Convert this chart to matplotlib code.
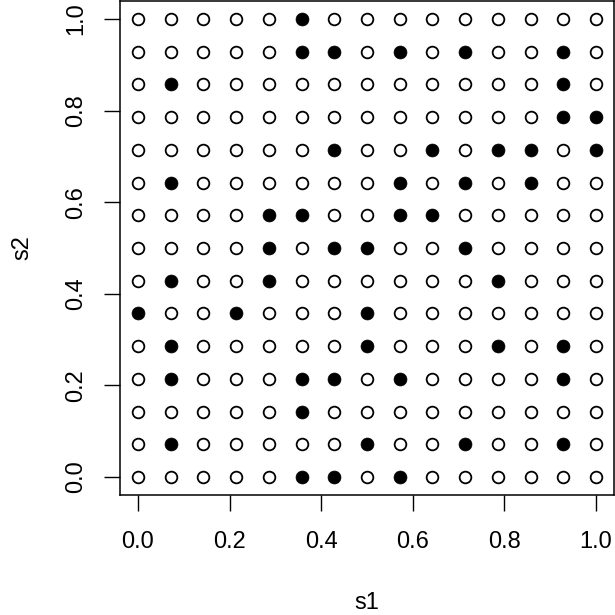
import matplotlib
matplotlib.use("Agg")
import matplotlib.pyplot as plt

plt.rcParams["font.family"] = ["Liberation Sans", "DejaVu Sans"]

# grid levels for s1 and s2 (15 equally spaced design points)
levels = [0/14, 1/14, 2/14, 3/14, 4/14, 5/14, 6/14, 7/14,
          8/14, 9/14, 10/14, 11/14, 12/14, 13/14, 14/14]

# filled points: row index (s2) -> column indices (s1)
filled_rows = {
    14: [5],
    13: [5, 6, 8, 10, 13],
    12: [1, 13],
    11: [13, 14],
    10: [6, 9, 11, 12, 14],
    9: [1, 8, 10, 12],
    8: [4, 5, 8, 9],
    7: [4, 6, 7, 10],
    6: [1, 4, 11],
    5: [0, 3, 7],
    4: [1, 7, 11, 13],
    3: [1, 5, 6, 8, 13],
    2: [5],
    1: [1, 7, 10, 13],
    0: [5, 6, 8],
}
ticks = [0.0, 0.2, 0.4, 0.6, 0.8, 1.0]
tick_labels = ["0.0", "0.2", "0.4", "0.6", "0.8", "1.0"]

open_x, open_y, fill_x, fill_y = [], [], [], []
for j, s2 in enumerate(levels):
    for i, s1 in enumerate(levels):
        if i in filled_rows.get(j, []):
            fill_x.append(s1); fill_y.append(s2)
        else:
            open_x.append(s1); open_y.append(s2)

fig = plt.figure(figsize=(6.15, 6.15), dpi=100)
ax = fig.add_axes([0.1946, 0.1946, 0.8043, 0.8043])
ax.plot(open_x, open_y, "o", ls="none", ms=8.4, mfc="none", mec="black", mew=1.3)
ax.plot(fill_x, fill_y, "o", ls="none", ms=9.3, mfc="black", mec="black", mew=0.5)

ax.set_xlim(-0.04, 1.04)
ax.set_ylim(-0.04, 1.04)
ax.set_xticks(ticks, tick_labels)
ax.set_yticks(ticks, tick_labels)
for lab in ax.get_yticklabels():
    lab.set_rotation(90)
    lab.set_va("center")
ax.tick_params(direction="out", length=11.5, width=1, labelsize=17, color="black")
ax.tick_params(axis="x", pad=14.5)
ax.tick_params(axis="y", pad=12)
for sp in ax.spines.values():
    sp.set_linewidth(1.1)

ax.set_xlabel("s1", fontsize=17, va="center")
ax.set_ylabel("s2", fontsize=17, va="center")
ax.xaxis.set_label_coords(0.5, -0.218)
ax.yaxis.set_label_coords(-0.197, 0.5)

fig.savefig("out.png", dpi=100)
